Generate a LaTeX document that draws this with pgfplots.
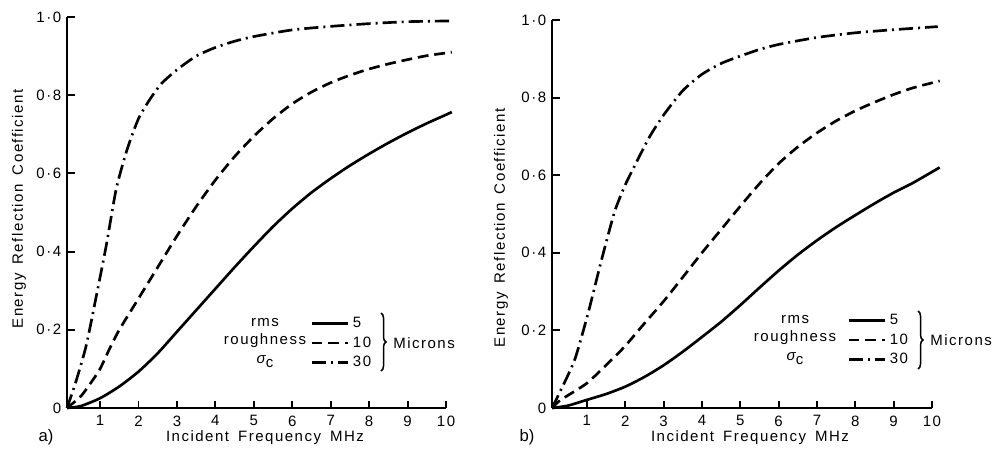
\documentclass[border=0pt]{standalone}
\usepackage{pgfplots}
\pgfplotsset{compat=1.18}
\usepackage{pgfplotstable}
\usepackage{fontspec}
\setmainfont{Liberation Sans}[LetterSpace=10, WordSpace=1.6]
\newfontfamily\plainfont{Liberation Sans}
\usetikzlibrary{decorations.pathreplacing}

\pgfplotstableread{
x y
0.14 0
0.5 0.005
1 0.025
1.5 0.055
2 0.093
2.5 0.14
3 0.195
3.5 0.25
4 0.305
4.5 0.36
5 0.413
5.5 0.464
6 0.51
6.5 0.551
7 0.587
7.5 0.62
8 0.65
8.5 0.678
9 0.704
9.5 0.728
10 0.75
10.15 0.757
}\aFive
\pgfplotstableread{
x y
0.14 0
0.5 0.03
0.8 0.07
1 0.1
1.25 0.152
1.5 0.2
2 0.28
2.5 0.36
3 0.44
3.5 0.515
4 0.583
4.5 0.643
5 0.695
5.5 0.74
6 0.778
6.5 0.808
7 0.832
7.5 0.851
8 0.867
8.5 0.88
9 0.891
9.5 0.901
10.15 0.91
}\aTen
\pgfplotstableread{
x y
0.14 0
0.38 0.07
0.64 0.16
0.9 0.285
1.16 0.415
1.42 0.56
1.7 0.66
2 0.74
2.3 0.79
2.6 0.83
3 0.865
3.5 0.9
4 0.922
4.5 0.938
5 0.95
6 0.967
7 0.976
8 0.983
9 0.988
10.15 0.99
}\aThirty
\pgfplotstableread{
x y
0.09 0
0.5 0.006
1 0.021
1.5 0.036
2 0.055
2.5 0.08
3 0.11
3.5 0.145
4 0.183
4.5 0.222
5 0.265
5.5 0.31
6 0.354
6.5 0.395
7 0.432
7.5 0.466
8 0.497
8.5 0.527
9 0.555
9.5 0.58
10.2 0.62
}\bFive
\pgfplotstableread{
x y
0.09 0
0.32 0.021
1 0.064
1.64 0.124
2 0.16
2.5 0.218
3 0.275
3.5 0.337
4 0.4
4.5 0.46
5 0.52
5.5 0.578
6 0.63
6.5 0.673
7 0.709
7.5 0.74
8 0.766
8.5 0.788
9 0.808
9.5 0.825
10.2 0.843
}\bTen
\pgfplotstableread{
x y
0.09 0
0.28 0.038
0.68 0.124
1.03 0.244
1.38 0.381
1.72 0.505
2 0.575
2.3 0.635
2.64 0.7
3 0.755
3.5 0.818
4 0.86
4.5 0.888
5 0.907
5.5 0.924
6 0.937
7 0.955
8 0.967
9 0.975
10.15 0.983
}\bThirty

\tikzset{
  curve/.style={black, line width=1.6pt, no markers, smooth, tension=0.4},
  solidstyle/.style={curve, solid},
  dashstyle/.style={curve, dash pattern=on 6.5pt off 3.5pt},
  dashdotstyle/.style={curve, dash pattern=on 8.5pt off 3pt on 1.2pt off 3pt},
}
\pgfplotsset{
  panel/.style={
    scale only axis,
    axis x line*=bottom, axis y line*=left,
    axis line style={line width=1.2pt,-},
    xmax=10, ymin=0, ymax=1,
    xtick={1,2,3,4,5,6,7,8,9,10},
    xticklabels={1,2,3,4,5,6,7,8,9,10},
    ytick={0,0.2,0.4,0.6,0.8,1},
    yticklabels={0,0·2,0·4,0·6,0·8,1·0},
    tick align=inside,
    major tick length=4.5pt,
    tick style={line width=1.1pt,black},
    ticklabel style={font=\fontsize{9}{10}\selectfont},
    xticklabel style={yshift=-1pt},
    clip=false,
    legend cell align=left,
    legend style={draw=none, fill=none, inner sep=0pt, row sep=0pt,
      font=\fontsize{9}{11.1}\selectfont, anchor=west},
    legend image code/.code={\draw[##1] (0pt,0pt) -- (22pt,0pt);},
  }
}

\begin{document}
\begin{tikzpicture}
\path[use as bounding box] (0,0) rectangle (598.8pt,-274.8pt);

\begin{axis}[panel, at={(40.2pt,-244.8pt)}, anchor=south west,
  width=227.4pt, height=234.6pt, xmin=0.14,
  legend style={at={(0.641,0.166)}}]
\addplot[solidstyle] table[x=x,y=y] {\aFive};
\addlegendentry{5}
\addplot[dashstyle] table[x=x,y=y] {\aTen};
\addlegendentry{10}
\addplot[dashdotstyle] table[x=x,y=y] {\aThirty};
\addlegendentry{30}
\end{axis}

\begin{axis}[panel, at={(331.2pt,-244.8pt)}, anchor=south west,
  width=228pt, height=232.8pt, xmin=0.09,
  legend style={at={(0.776,0.175)}}]
\addplot[solidstyle] table[x=x,y=y] {\bFive};
\addlegendentry{5}
\addplot[dashstyle] table[x=x,y=y] {\bTen};
\addlegendentry{10}
\addplot[dashdotstyle] table[x=x,y=y] {\bThirty};
\addlegendentry{30}
\end{axis}

\begin{scope}[x=0.6pt,y=-0.6pt, font=\fontsize{9}{11.1}\selectfont]
  % panel a annotations
  \node[rotate=90] at (19,209) {Energy Reflection Coefficient};
  \node at (265,438) {Incident Frequency MHz};
  \node[font=\plainfont\fontsize{10}{12}\selectfont] at (46,437) {a)};
  \node[align=center, inner sep=0pt] at (265,343) {rms\\roughness\\{\itshape σ}\raisebox{-0.5ex}{c}};
  \draw[line width=0.9pt, decorate, decoration={brace, amplitude=3pt}] (381,313) -- (381,371);
  \node[anchor=west, inner sep=0pt] at (393,343) {Microns};
  % panel b annotations
  \node[rotate=90] at (501,228) {Energy Reflection Coefficient};
  \node at (750,438) {Incident Frequency MHz};
  \node[font=\plainfont\fontsize{10}{12}\selectfont] at (527,437) {b)};
  \node[align=center, inner sep=0pt] at (795,340) {rms\\roughness\\{\itshape σ}\raisebox{-0.5ex}{c}};
  \draw[line width=0.9pt, decorate, decoration={brace, amplitude=3pt}] (918,311) -- (918,369);
  \node[anchor=west, inner sep=0pt] at (930,340) {Microns};
\end{scope}
\end{tikzpicture}
\end{document}
